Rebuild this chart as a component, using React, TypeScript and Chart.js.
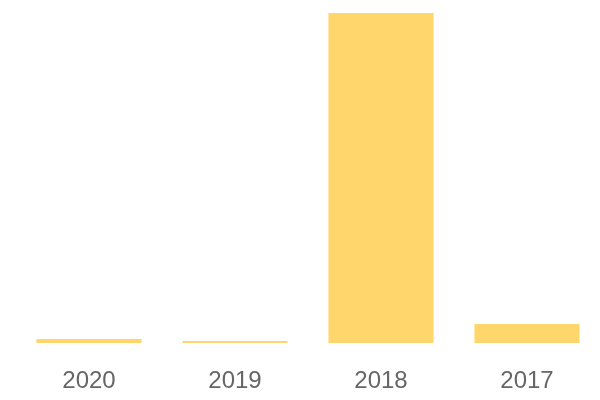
import React, { useEffect, useRef } from "react";
import { Chart, registerables } from "chart.js";

Chart.register(...registerables);

const categories = ["2020", "2019", "2018", "2017"];
const values = [4, 2, 330, 19];

export default function App() {
  const ref = useRef<HTMLCanvasElement | null>(null);
  useEffect(() => {
    document.body.style.margin = "0";
    if (!ref.current) return;
    const chart = new Chart(ref.current, {
      type: "bar",
      data: {
        labels: categories,
        datasets: [
          {
            data: values,
            backgroundColor: "rgb(255, 214, 107)",
            borderWidth: 0,
          },
        ],
      },
      options: {
        responsive: false,
        animation: false,
        layout: { padding: { left: 16, right: 0, top: 13, bottom: 0 } },
        plugins: { legend: { display: false }, tooltip: { enabled: false } },
        scales: {
          x: {
            grid: { display: false, drawTicks: false },
            border: { display: false },
            afterFit: (axis: any) => {
              axis.height = 57;
            },
            ticks: {
              color: "#666",
              padding: 24,
              font: { size: 24, family: "'Liberation Sans', Arial, sans-serif" },
            },
          },
          y: {
            display: false,
            min: 0,
            max: Math.max(...values),
          },
        },
      },
    });
    return () => chart.destroy();
  }, []);
  return <canvas ref={ref} width={600} height={400} style={{ display: "block" }} />;
}
